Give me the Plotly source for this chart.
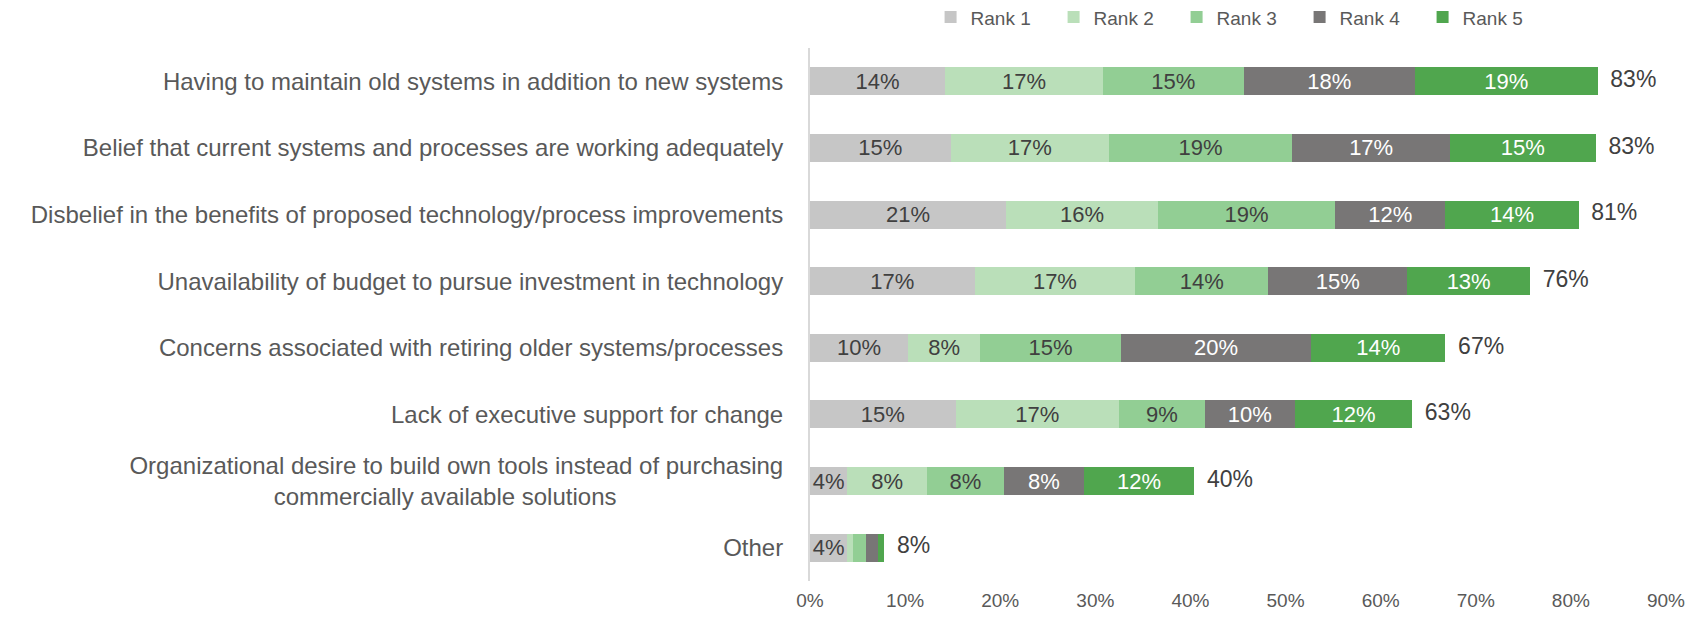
import plotly.graph_objects as go

# barrier categories, top to bottom as in the chart
categories = [
    "Having to maintain old systems in addition to new systems",
    "Belief that current systems and processes are working adequately",
    "Disbelief in the benefits of proposed technology/process improvements",
    "Unavailability of budget to pursue investment in technology",
    "Concerns associated with retiring older systems/processes",
    "Lack of executive support for change",
    "Organizational desire to build own tools instead of purchasing<br>commercially available solutions" + "\u00a0" * 25,
    "Other",
]

# share of respondents (%) per rank, same order as categories
rank1 = [14.2, 14.8, 20.6, 17.3, 10.3, 15.3, 3.9, 3.9]
rank2 = [16.6, 16.6, 16.0, 16.9, 7.6, 17.2, 8.4, 0.6]
rank3 = [14.8, 19.3, 18.6, 14.0, 14.8, 9.0, 8.1, 1.4]
rank4 = [18.0, 16.6, 11.6, 14.6, 20.0, 9.5, 8.4, 1.2]
rank5 = [19.2, 15.3, 14.0, 12.9, 14.1, 12.3, 11.6, 0.7]

series_names = ["Rank 1", "Rank 2", "Rank 3", "Rank 4", "Rank 5"]
series_values = [rank1, rank2, rank3, rank4, rank5]
colors = ["#C6C6C6", "#BADFB9", "#92CE94", "#787676", "#50A64E"]
label_colors = ["#404040", "#404040", "#404040", "#FFFFFF", "#FFFFFF"]

x_ticks = [0, 10, 20, 30, 40, 50, 60, 70, 80, 90]
x_ticklabels = [f"{t}%" for t in x_ticks]

FONT = "'Liberation Sans', Arial, sans-serif"

fig = go.Figure()

for name, vals, color, lc in zip(series_names, series_values, colors, label_colors):
    fig.add_trace(go.Bar(
        y=categories,
        x=vals,
        name=name,
        orientation="h",
        marker=dict(color=color, line=dict(width=0)),
        text=[f"{round(v)}%" if v >= 3 else "" for v in vals],
        textposition="inside",
        insidetextanchor="middle",
        textfont=dict(color=lc, size=22, family=FONT),
        constraintext="none",
        hovertemplate=name + ": %{x:.1f}%<extra></extra>",
    ))

# totals at the end of each bar
totals = [sum(v) for v in zip(*series_values)]
fig.add_trace(go.Scatter(
    y=categories,
    x=totals,
    mode="text",
    text=["\u00a0\u00a0" + f"{round(t)}%" for t in totals],
    textposition="middle right",
    textfont=dict(color="#404040", size=23, family=FONT),
    showlegend=False,
    hoverinfo="skip",
    cliponaxis=False,
))

# the page body adds an 8px offset, so the figure is a bit smaller
fig.update_layout(
    barmode="stack",
    bargap=0.58,
    width=1692,
    height=618,
    margin=dict(l=802, r=34, t=40, b=45),
    paper_bgcolor="white",
    plot_bgcolor="white",
    font=dict(family=FONT, color="#595959", size=20),
    legend=dict(
        orientation="h",
        xref="container", yref="container",
        x=0.727, xanchor="center",
        y=0.985, yanchor="middle",
        font=dict(size=19, color="#595959"),
        itemwidth=30,
        entrywidth=78,
        traceorder="normal",
    ),
    xaxis=dict(
        range=[0, 90],
        tickvals=x_ticks,
        ticktext=x_ticklabels,
        showgrid=False,
        zeroline=False,
        showline=False,
        automargin=False,
        tickfont=dict(size=19, color="#595959"),
        ticklabelstandoff=6,
    ),
    yaxis=dict(
        autorange="reversed",
        showgrid=False,
        zeroline=False,
        showline=True,
        automargin=False,
        linecolor="#D9D9D9",
        linewidth=2,
        tickfont=dict(size=24, color="#595959"),
        ticklabelstandoff=20,
    ),
)

fig.write_html("out.html")
